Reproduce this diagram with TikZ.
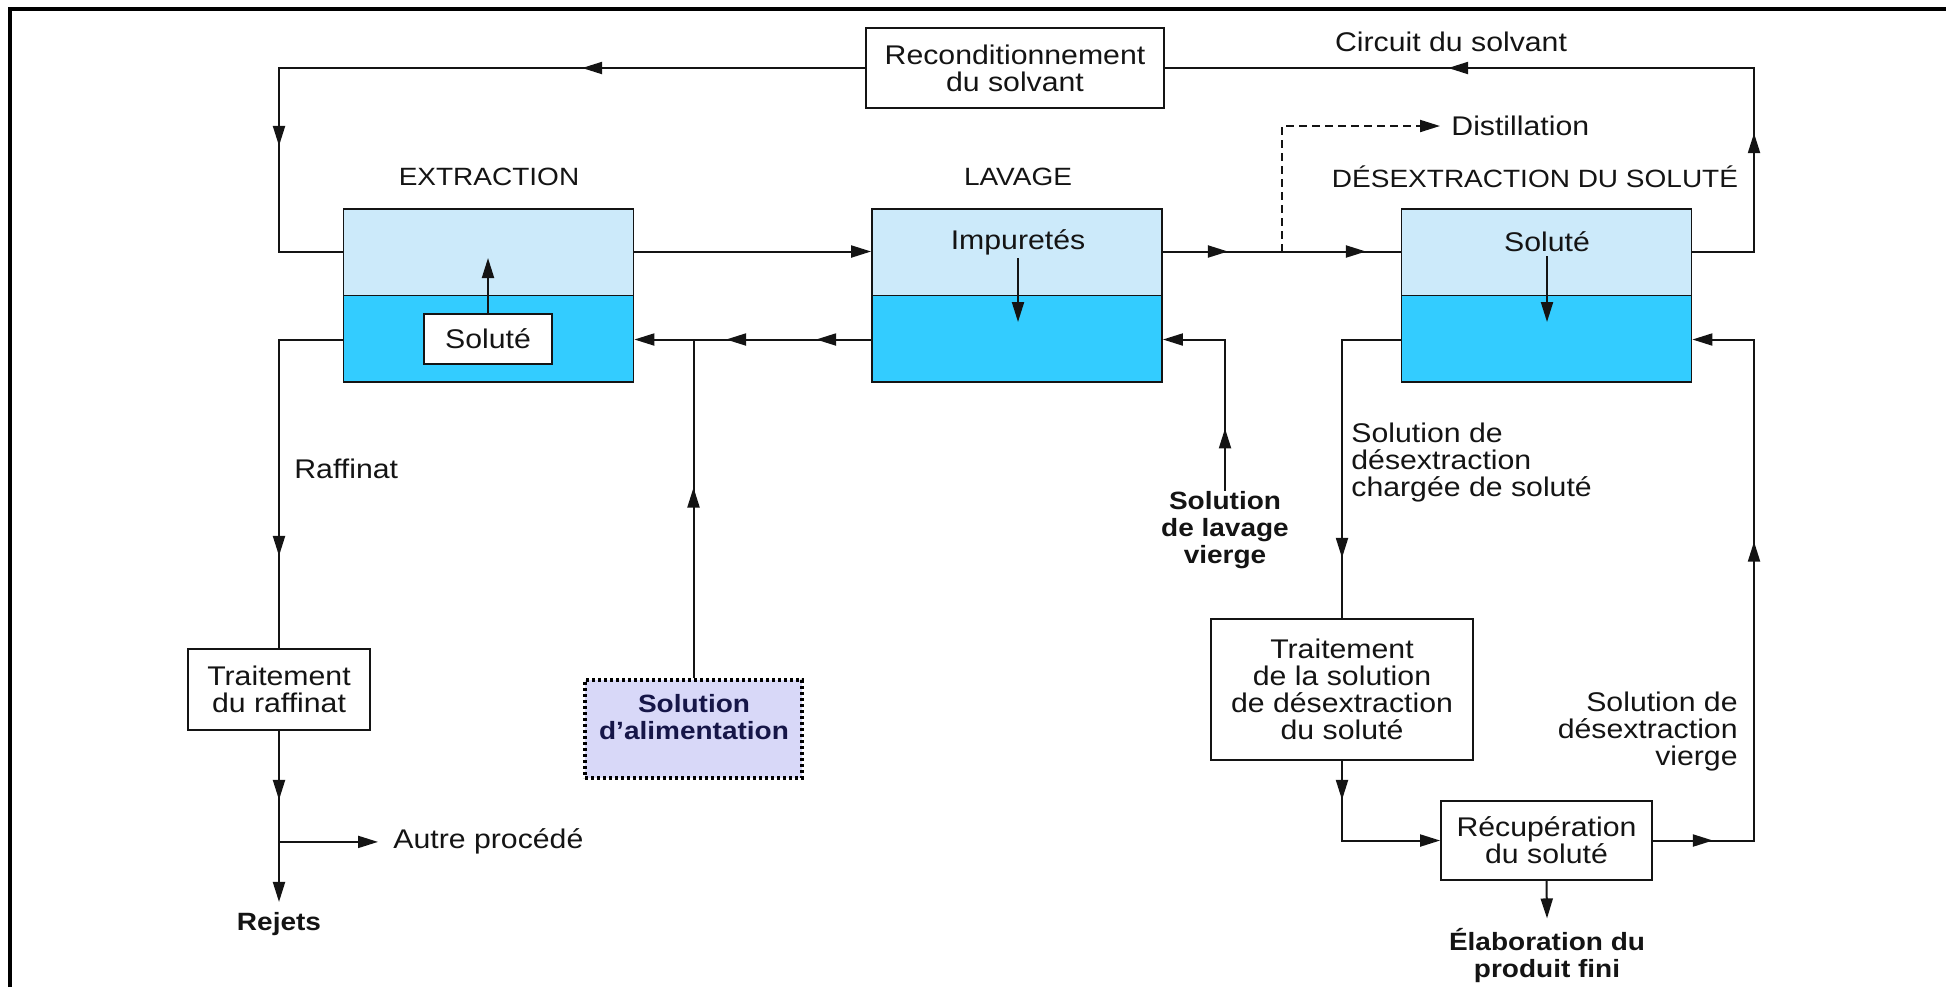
\documentclass[tikz,border=0pt]{standalone}
\usepackage{fontspec}
\setmainfont{Liberation Sans}[FakeStretch=1.12]
\usetikzlibrary{arrows.meta,decorations.markings,calc}
\definecolor{lightph}{RGB}{204,234,250}
\definecolor{heavyph}{RGB}{51,204,255}
\definecolor{alimfill}{RGB}{216,216,248}
\definecolor{navy}{RGB}{22,22,72}
\definecolor{ink}{RGB}{20,20,20}
\tikzset{
  >={Triangle[length=10pt,width=6pt]},
  line/.style={line width=1pt, draw=ink},
  am/.style={postaction={decorate,decoration={markings,mark=at position #1 with {\arrow{>}}}}},
  regfont/.style={font=\fontsize{13.5pt}{13.5pt}\selectfont},
  lbl/.style={regfont, text=ink, align=center, inner sep=0pt},
  boldlbl/.style={font=\fontsize{12.5pt}{13.5pt}\selectfont\bfseries, text=ink, align=center, inner sep=0pt},
  caps/.style={font=\fontsize{12.5pt}{13.5pt}\selectfont, text=ink, inner sep=0pt},
  box/.style={draw=ink, line width=0.9pt, fill=white, regfont, text=ink, align=center, inner sep=3pt},
  tank/.style={draw=ink, line width=0.9pt, minimum width=145pt, minimum height=86.5pt, inner sep=0pt,
    path picture={
      \fill[lightph] (path picture bounding box.north west) rectangle (path picture bounding box.east);
      \fill[heavyph] (path picture bounding box.west) rectangle (path picture bounding box.south east);
      \draw[line width=0.9pt, draw=ink] (path picture bounding box.west) -- (path picture bounding box.east);
    }},
  alimbox/.style={draw=black, fill=alimfill, line width=1.6pt, dash pattern=on 1.6pt off 1.4pt,
    minimum width=108.5pt, minimum height=49pt, inner sep=0pt},
}
\begin{document}
\begin{tikzpicture}[x=0.5pt,y=-0.5pt]
\useasboundingbox (0,0) rectangle (1946,987);
% frame
\draw[line width=1.6pt, draw=black] (10,987) -- (10,9) -- (1946,9);

% nodes
\node[box, minimum width=149pt, minimum height=40pt] (recond) at (1015,68) {Reconditionnement\\du solvant};
\node[lbl] (circ) at (1451,42) {Circuit du solvant};
\node[caps] (lext) at (489,177) {EXTRACTION};
\node[caps] (llav) at (1018,177) {LAVAGE};
\node[caps] (ldes) at (1535,177) {DÉSEXTRACTION DU SOLUTÉ};
\node[tank] (ext) at (488.5,295.5) {};
\node[tank] (lav) at (1017,295.5) {};
\node[tank] (des) at (1546.5,295.5) {};
\node[box, minimum width=64pt, minimum height=25pt] (sol1) at (488,339) {Soluté};
\node[lbl] (impur) at (1018,242) {Impuretés};
\node[lbl] (sol2) at (1547,242) {Soluté};
\node[lbl, anchor=west] (dist) at (1451,126) {Distillation};
\node[lbl, anchor=west] (raff) at (294,469) {Raffinat};
\node[box, minimum width=91pt, minimum height=40.5pt] (traff) at (279,689.5) {Traitement\\du raffinat};
\node[alimbox] (alim) at (693.5,729) {};
\node[boldlbl, text=navy] (alimtxt) at (694,717) {Solution\\d’alimentation};
\node[lbl, anchor=west] (autre) at (393,841) {Autre procédé};
\node[boldlbl] (rejets) at (279,924) {Rejets};
\node[boldlbl] (wash) at (1225,530) {Solution\\de lavage\\vierge};
\node[lbl, align=left, anchor=west] (charg) at (1351,463) {Solution de\\désextraction\\chargée de soluté};
\node[box, minimum width=131pt, minimum height=70.5pt] (tdes) at (1342,689.5) {Traitement\\de la solution\\de désextraction\\du soluté};
\node[lbl, align=right, anchor=east] (vierge) at (1738,731) {Solution de\\désextraction\\vierge};
\node[box, minimum width=105.5pt, minimum height=39.5pt] (recup) at (1546.5,840.5) {Récupération\\du soluté};
\node[boldlbl] (elab) at (1547,955) {Élaboration du\\produit fini};

% tank ports
\coordinate (extUL) at ([yshift=22pt]ext.west);
\coordinate (extLL) at ([yshift=-22pt]ext.west);
\coordinate (extUR) at ([yshift=22pt]ext.east);
\coordinate (extLR) at ([yshift=-22pt]ext.east);
\coordinate (lavUL) at ([yshift=22pt]lav.west);
\coordinate (lavLL) at ([yshift=-22pt]lav.west);
\coordinate (lavUR) at ([yshift=22pt]lav.east);
\coordinate (lavLR) at ([yshift=-22pt]lav.east);
\coordinate (desUL) at ([yshift=22pt]des.west);
\coordinate (desLL) at ([yshift=-22pt]des.west);
\coordinate (desUR) at ([yshift=22pt]des.east);
\coordinate (desLR) at ([yshift=-22pt]des.east);
% junctions
\coordinate (tl) at (279,68);
\coordinate (tr) at (1754,68);
\coordinate (rbot) at (1754,840.5);
\coordinate (dj) at ($(lavUR)+(119,0)$);
\coordinate (fj) at ($(extLR)+(61,0)$);
\coordinate (bj) at ($(traff.south)+(0,111)$);
\coordinate (autretip) at ($(bj -| autre.west)+(-15,0)$);
\coordinate (extup) at (488,258);
\coordinate (lavdn) at (1018,322);
\coordinate (desdn) at (1547,322);

% solvent circuit
\draw[line, am=90pt, am=275.5pt] (desUR) -| (tr) -- (recond.east);
\draw[line, am=141.5pt, am=332pt] (recond.west) -- (tl) |- (extUL);
\draw[line, ->] (extUR) -- (lavUL);
\draw[line, am=32.5pt, am=101.5pt] (lavUR) -- (desUL);
\draw[line, dashed, dash pattern=on 4pt off 2.5pt, ->] (dj) |- ([xshift=-5.5pt]dist.west);

% aqueous flows
\draw[line, am=27.5pt, am=72.5pt, ->] (lavLL) -- (extLR);
\draw[line, am=-74pt] (alim.north) -- (alim.north |- fj);
\draw[line, am=-75.5pt, ->] (wash.north) -- (wash.north |- lavLR) -- (lavLR);

% inner transfers
\draw[line, ->] (sol1.north) -- (extup);
\draw[line, ->] ([yshift=-1.5pt]impur.south) -- (lavdn);
\draw[line, ->] ([yshift=-2pt]sol2.south) -- (desdn);

% raffinate branch
\draw[line, am=140pt] (extLL) -| (traff.north);
\draw[line, am=34.5pt, ->] (traff.south) -- ([yshift=5pt]rejets.north);
\draw[line, ->] (bj) -- (autretip);

% stripping branch
\draw[line, am=138.5pt] (desLL) -| (tdes.north);
\draw[line, am=19.5pt, ->] (tdes.south) |- (recup.west);
\draw[line, am=30pt, am=200pt, ->] (recup.east) -- (rbot) |- (desLR);
\draw[line, ->] (recup.south) -- ([yshift=4.5pt]elab.north);
\end{tikzpicture}
\end{document}
